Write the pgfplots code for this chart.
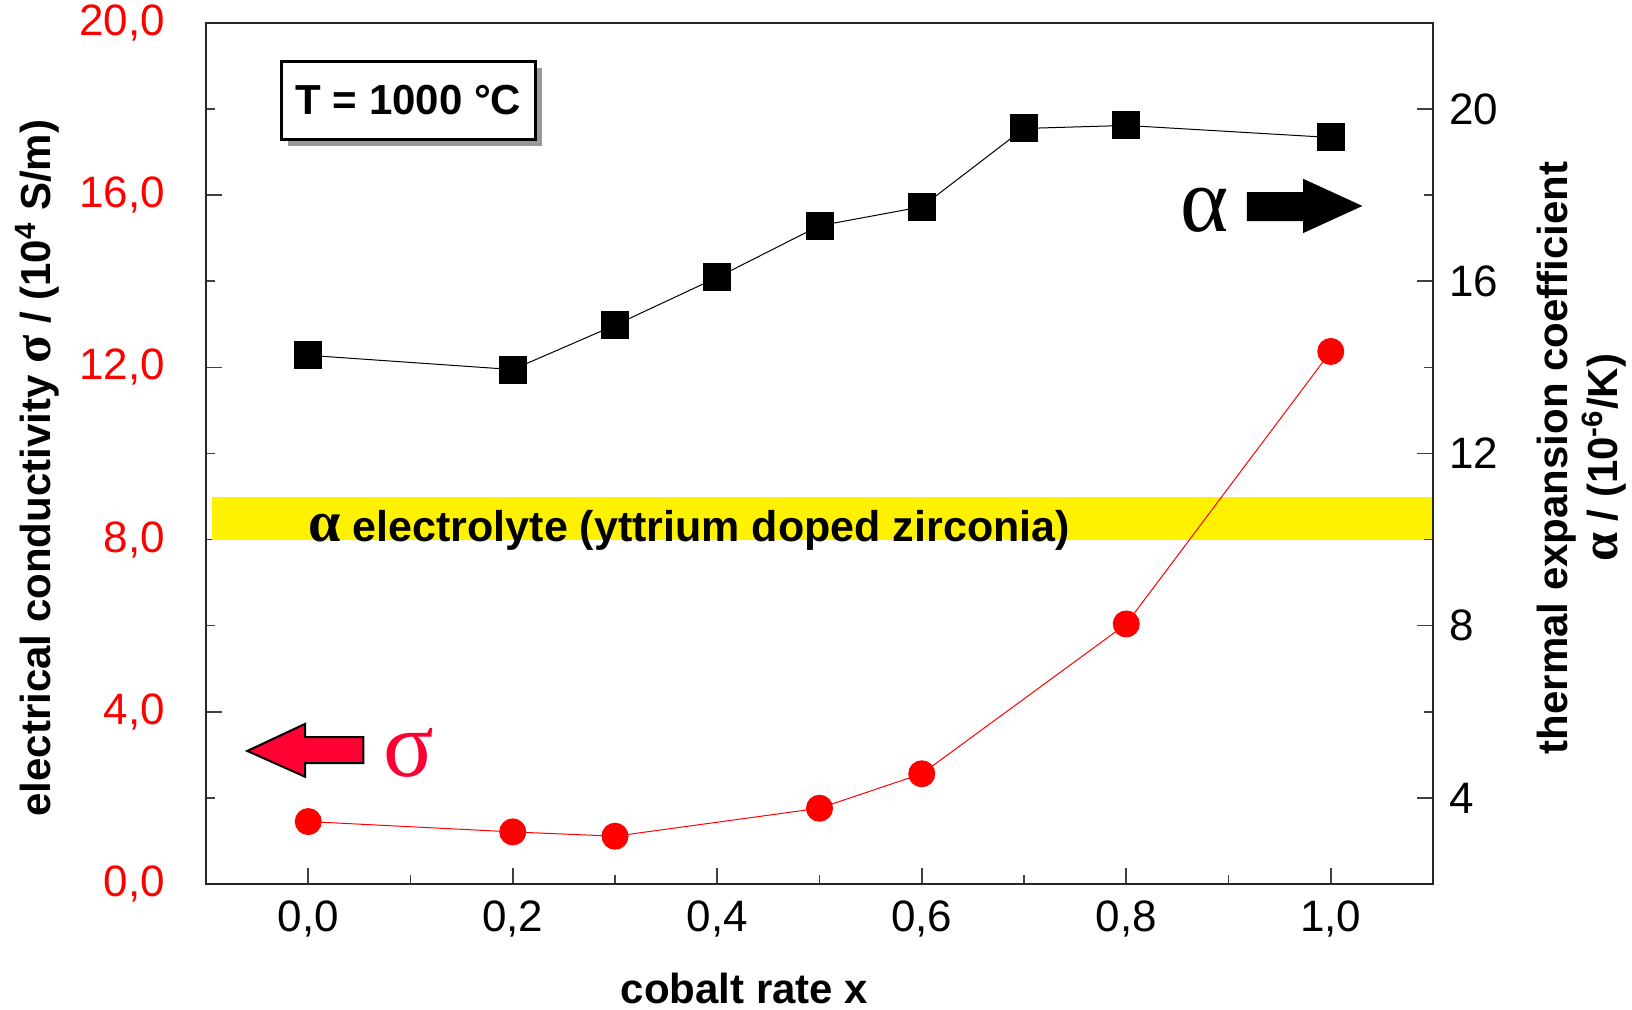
\documentclass[border=0pt]{standalone}
\usepackage{pgfplots}
\pgfplotsset{compat=1.18}
\usepackage{fontspec}
\setmainfont{Liberation Sans}
\newfontfamily\serif{Liberation Serif}
\definecolor{sigred}{RGB}{255,0,51}
\begin{document}
\begin{tikzpicture}
\pgfplotsset{
  base/.style={
    width=613.5pt, height=430.5pt, scale only axis,
    xmin=-0.1, xmax=1.1, clip=false,
    tick align=inside,
    major tick length=8pt, minor tick length=4.5pt,
    every tick/.style={black!75, line width=0.8pt},
    axis line style={black!85, line width=0.9pt},
    /pgf/number format/assume math mode=true,
    tick label style={font=\fontsize{22}{26}\selectfont},
    label style={font=\fontsize{21}{25}\selectfont\bfseries},
  }
}
\begin{axis}[base, name=main,
  ymin=0, ymax=20,
  xtick={0,0.2,0.4,0.6,0.8,1.0}, minor xtick={0.1,0.3,0.5,0.7,0.9},
  ytick={0,4,8,12,16,20}, minor ytick={2,6,10,14,18},
  xtick pos=bottom, ytick pos=left,
  xticklabel style={yshift=-5pt, /pgf/number format/.cd, fixed, fixed zerofill, precision=1, use comma},
  yticklabel style={red, xshift=-17pt, /pgf/number format/.cd, fixed, fixed zerofill, precision=1, use comma},
  xlabel={cobalt rate x},
  xlabel style={at={(axis description cs:0.439,0)}, anchor=base, yshift=-60pt},
  ylabel={electrical conductivity {\serif\bfseries\fontsize{26}{26}\selectfont σ} / (10\textsuperscript{4} S/m)},
  ylabel style={at={(axis description cs:-0.127,0.483)}, anchor=base},
]
\fill[yellow] (axis cs:-0.094,8) rectangle (axis cs:1.1,9);
\node[anchor=base west, inner sep=0pt, font=\fontsize{21.5}{25}\selectfont\bfseries] at (axis cs:0.0,7.95) {{\serif\bfseries\fontsize{29}{29}\selectfont α} electrolyte (yttrium doped zirconia)};
\node[fill=black!40, minimum width=127pt, minimum height=39pt, inner sep=0pt, xshift=3.5pt, yshift=-3.5pt] at (axis cs:0.098,18.21) {};
\node[draw=black, line width=1.5pt, fill=white, minimum width=127pt, minimum height=39pt, inner sep=0pt, font=\fontsize{21}{25}\selectfont\bfseries] at (axis cs:0.098,18.21) {T = 1000 °C};
\fill[black] (axis cs:0.918,16.07) -- (axis cs:0.973,16.07) -- (axis cs:0.973,16.38) -- (axis cs:1.031,15.75) -- (axis cs:0.973,15.12) -- (axis cs:0.973,15.40) -- (axis cs:0.918,15.40) -- cycle;
\node[anchor=base, inner sep=0pt, font=\serif\fontsize{46}{46}\selectfont] at (axis cs:0.877,15.15) {α};
\filldraw[fill=sigred, draw=black, line width=1pt] (axis cs:-0.0596,3.09) -- (axis cs:-0.003,3.72) -- (axis cs:-0.003,3.41) -- (axis cs:0.054,3.41) -- (axis cs:0.054,2.81) -- (axis cs:-0.003,2.81) -- (axis cs:-0.003,2.49) -- cycle;
\node[anchor=base, inner sep=0pt, text=sigred, font=\serif\fontsize{47}{47}\selectfont] at (axis cs:0.098,2.49) {σ};
\addplot[red, line width=0.5pt, mark=*, mark size=6.5pt, mark options={fill=red, draw=red}] coordinates {
(0,1.45) (0.2,1.21) (0.3,1.11) (0.5,1.76) (0.6,2.56) (0.8,6.04) (1.0,12.37)};
\end{axis}
\begin{axis}[base,
  ymin=2, ymax=22,
  axis x line=none, axis y line*=right,
  ytick={4,8,12,16,20}, minor ytick={6,10,14,18},
  yticklabel style={xshift=4.6pt},
  ylabel={thermal expansion coefficient\\{\serif\bfseries\fontsize{26}{26}\selectfont α} / (10\textsuperscript{-6}/K)},
  ylabel style={align=center, at={(axis description cs:1.121,0.495)}, anchor=center, rotate=0},
]
\addplot[black, line width=0.5pt, mark=square*, mark size=6.75pt, mark options={fill=black}] coordinates {
(0,14.28) (0.2,13.95) (0.3,14.98) (0.4,16.09) (0.5,17.29) (0.6,17.73) (0.7,19.55) (0.8,19.62) (1.0,19.34)};
\end{axis}
\pgfresetboundingbox
\path (main.south west) ++(-103pt,-63pt) rectangle ++(816pt,505pt);
\end{tikzpicture}
\end{document}
